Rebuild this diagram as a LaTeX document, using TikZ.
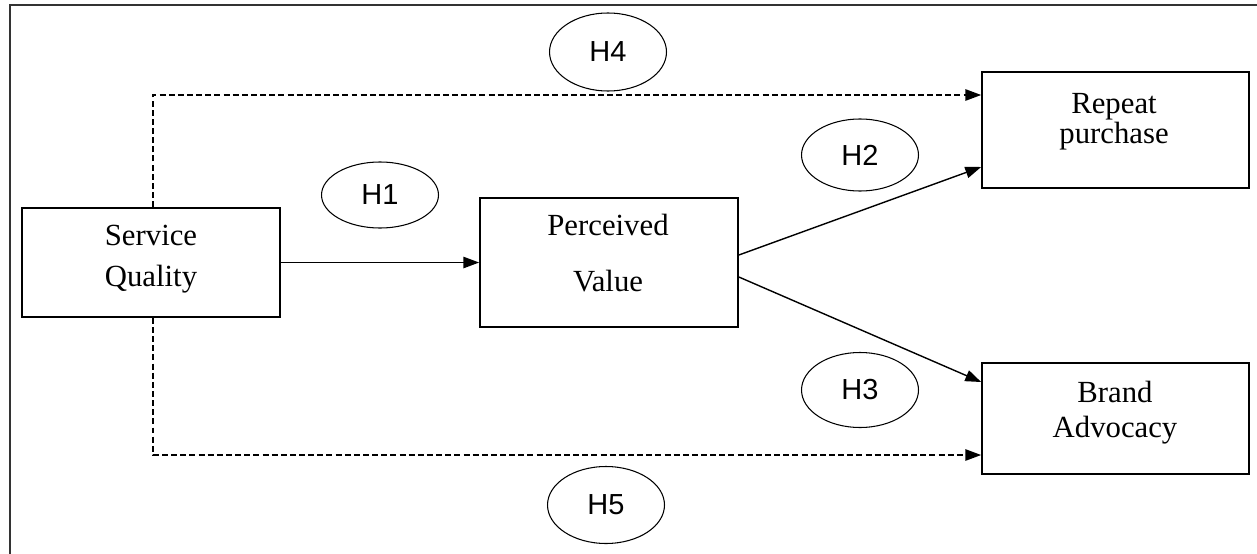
\documentclass[tikz,border=0pt]{standalone}
\usepackage{fontspec}
\setmainfont{Liberation Serif}
\newfontfamily\hypfont{Liberation Sans}
\usetikzlibrary{arrows.meta, shapes.geometric}

\tikzset{
    box/.style = {draw, line width=1pt, inner sep=0pt},
    boxtext/.style = {align=center, inner sep=0pt},
    hyp/.style = {draw, ellipse, line width=0.6pt, inner sep=0pt, minimum width=2.34cm,
        font=\hypfont\fontsize{16.5}{19}\selectfont},
    link/.style = {line width=0.8pt, -{Triangle[length=9pt, width=6.5pt]}},
    dashlink/.style = {link, dash pattern=on 3.4pt off 1.8pt},
}

\begin{document}
\begin{tikzpicture}[x=0.02cm, y=-0.02cm]
        \useasboundingbox (0,0) rectangle (1257,554);
        \draw[line width=0.6pt, black!80] (1257,5) -- (10,5) -- (10,554);

        % constructs
        \node[box, minimum width=5.16cm, minimum height=2.18cm](SQ) at (151,262.5){};
        \node[box, minimum width=5.16cm, minimum height=2.58cm](PV) at (609,262.5){};
        \node[box, minimum width=5.34cm, minimum height=2.32cm](RP) at (1115.5,130){};
        \node[box, minimum width=5.34cm, minimum height=2.22cm](BA) at (1115.5,418.5){};

        \node[boxtext, font=\fontsize{17.5}{23.3}\selectfont](SQ_txt) at (151,259){Service\\Quality};
        \node[boxtext, font=\fontsize{17.5}{31.9}\selectfont](PV_txt) at (608,253){Perceived\\Value};
        \node[boxtext, font=\fontsize{17.5}{17}\selectfont](RP_txt) at (1114,122){Repeat\\purchase};
        \node[boxtext, font=\fontsize{17.5}{20}\selectfont](BA_txt) at (1115,412.5){Brand\\Advocacy};

        % hypotheses
        \node[hyp, minimum height=1.32cm](H1) at (380,195){H1};
        \node[hyp, minimum height=1.44cm](H2) at (860,155){H2};
        \node[hyp, minimum height=1.50cm](H3) at (860,390){H3};
        \node[hyp, minimum height=1.56cm](H4) at (608,52){H4};
        \node[hyp, minimum height=1.54cm](H5) at (606,505){H5};

        \coordinate(top_turn) at (153,95);
        \coordinate(bot_turn) at (153,455);

        \draw[link](SQ.east) -- (PV.west);
        \draw[link]([yshift=0.15cm]PV.east) -- ([yshift=-0.74cm]RP.west);
        \draw[link]([yshift=-0.29cm]PV.east) -- ([yshift=0.73cm]BA.west);

        \draw[dashlink](SQ.north -| top_turn) -- (top_turn) -- (RP.west |- top_turn);
        \draw[dashlink](SQ.south -| bot_turn) -- (bot_turn) -- (BA.west |- bot_turn);

    \end{tikzpicture}
\end{document}
